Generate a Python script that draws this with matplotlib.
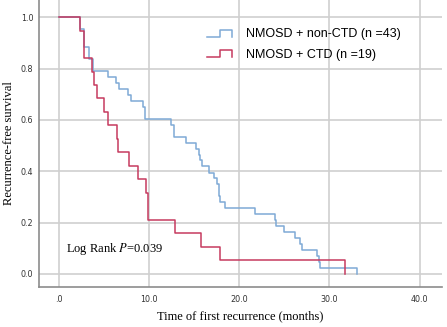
import matplotlib.pyplot as plt
from matplotlib.lines import Line2D
from matplotlib.legend_handler import HandlerBase

# Kaplan-Meier step values (time in months, survival)
nonctd_time = [0, 2.3, 2.8, 3.3, 3.8, 5.4, 6.3, 6.6, 7.6, 8.0, 9.3, 9.5,
               12.4, 12.7, 14.1, 15.2, 15.5, 15.6, 15.9, 16.6, 17.2, 17.5,
               17.7, 17.9, 18.4, 21.7, 24.0, 24.1, 25.0, 26.2, 26.7, 26.9,
               28.6, 28.8, 29.0, 33.1]
nonctd_surv = [1.0, 0.953, 0.884, 0.837, 0.791, 0.767, 0.744, 0.721, 0.698,
               0.674, 0.651, 0.605, 0.581, 0.535, 0.512, 0.488, 0.465, 0.442,
               0.419, 0.395, 0.372, 0.349, 0.302, 0.279, 0.256, 0.233, 0.209,
               0.186, 0.163, 0.140, 0.116, 0.093, 0.070, 0.047, 0.023, 0.0]

ctd_time = [0, 2.3, 2.7, 2.8, 3.6, 3.9, 4.2, 5.0, 5.4, 6.4, 6.5, 7.7, 8.7,
            9.6, 9.8, 12.85, 15.7, 17.9, 31.7]
ctd_surv = [1.0, 0.947, 0.895, 0.842, 0.789, 0.737, 0.684, 0.632, 0.579,
            0.526, 0.474, 0.421, 0.368, 0.316, 0.211, 0.158, 0.105, 0.053, 0.0]

labels = ['NMOSD + non-CTD (n =43)', 'NMOSD + CTD (n =19)']
colors = ['#7eaad6', '#c63a5f']
xticks = [0, 10, 20, 30, 40]
xticklabels = ['.0', '10.0', '20.0', '30.0', '40.0']
yticks = [0.0, 0.2, 0.4, 0.6, 0.8, 1.0]


class StepHandler(HandlerBase):
    # SPSS-style step icon in the legend
    def create_artists(self, legend, orig_handle, xdescent, ydescent,
                       width, height, fontsize, trans):
        x0, x1 = -xdescent, -xdescent + width
        xm = x0 + width * 0.5
        lo, hi = -ydescent + height * 0.1, -ydescent + height * 0.9
        line = Line2D([x0, xm, xm, x1, x1], [lo, lo, hi, hi, lo],
                      color=orig_handle.get_color(),
                      linewidth=orig_handle.get_linewidth(),
                      transform=trans)
        return [line]


plt.rcParams['mathtext.fontset'] = 'stix'

fig = plt.figure(figsize=(4.47, 3.27), dpi=100)
ax = fig.add_axes([0.087, 0.122, 0.902, 0.878])

h1, = ax.step(nonctd_time, nonctd_surv, where='post', color=colors[0],
              linewidth=1.1, zorder=3)
h2, = ax.step(ctd_time, ctd_surv, where='post', color=colors[1],
              linewidth=1.1, zorder=4)

ax.set_xlim(-2.26, 42.5)
ax.set_ylim(-0.052, 1.068)
ax.set_xticks(xticks)
ax.set_xticklabels(xticklabels)
ax.set_yticks(yticks)
ax.set_yticklabels(['%.1f' % v for v in yticks])
ax.tick_params(length=0, labelsize=5.8, colors='#333333', pad=6)
ax.tick_params(axis='y', pad=4)

ax.grid(True, color='#cfcfcf', linewidth=1.2)
ax.set_axisbelow(True)
for s in ['top', 'right']:
    ax.spines[s].set_visible(False)
for s in ['left', 'bottom']:
    ax.spines[s].set_color('#8c8c8c')
    ax.spines[s].set_linewidth(1.2)

ax.set_xlabel('Time of first recurrence (months)', family='Liberation Serif',
              fontsize=9, labelpad=4)
ax.set_ylabel('Recurrence-free survival', family='Liberation Serif',
              fontsize=9, labelpad=4)

ax.text(0.75, 0.096, 'Log Rank $P$=0.039', family='Liberation Serif',
        fontsize=9, va='center', ha='left')

ax.legend([h1, h2], labels, handler_map={Line2D: StepHandler()},
          loc='upper left', bbox_to_anchor=(0.39, 0.94), frameon=False,
          prop={'family': 'Liberation Sans', 'size': 9},
          handlelength=2.0, handletextpad=1.1, labelspacing=0.7)

fig.savefig('out.png', dpi=100)
